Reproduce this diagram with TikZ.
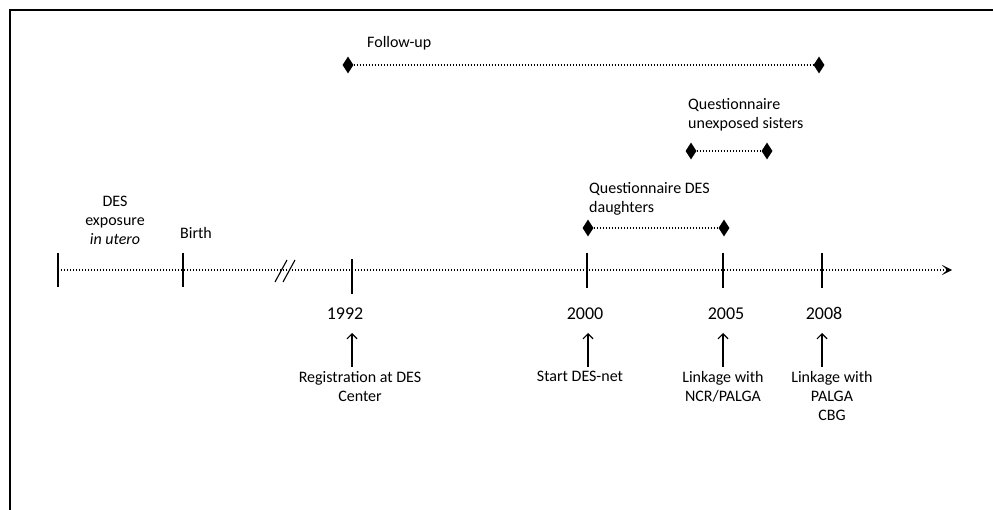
\documentclass[tikz,border=0pt]{standalone}
\usepackage{fontspec}
\setmainfont{Carlito}
\usetikzlibrary{arrows.meta,shapes.geometric}
\begin{document}
\begin{tikzpicture}[x=1pt,y=-1pt,
  lbl/.style={font=\fontsize{16}{19}\selectfont, inner sep=0pt, align=center},
  lbll/.style={font=\fontsize{16}{19}\selectfont, inner sep=0pt, align=left, anchor=west},
  yr/.style={font=\fontsize{18}{21}\selectfont, inner sep=0pt, anchor=base},
  dia/.style={shape=diamond, fill=black, draw=none, inner sep=0pt, minimum width=11pt, minimum height=17pt},
  dots/.style={line width=1.3pt, dash pattern=on 1.3pt off 1.7pt},
  tickmark/.style={line width=1.8pt},
  uparrow/.style={line width=1.2pt, -{Straight Barb[length=5pt,width=10pt,line width=1.2pt]}}
]
\useasboundingbox (0,0) rectangle (993,510);
\fill[white] (0,0) rectangle (993,510);
% frame (cut off at right and bottom)
\draw[line width=2pt] (10,510) -- (10,10) -- (993,10);

% timeline
\coordinate (tstart) at (58,270);
\coordinate (tend) at (952,270);
\draw[dots, -{Stealth[length=10pt,width=10pt,inset=5pt]}] (tstart) -- (tend);

% ticks
\draw[tickmark] (58,253) -- (58,287);
\draw[tickmark] (183,253) -- (183,287);
\draw[tickmark] (352,259) -- (352,294);
\draw[tickmark] (587,253) -- (587,288);
\draw[tickmark] (723,253) -- (723,288);
\draw[tickmark] (822,253) -- (822,288);

% break mark
\draw[line width=1.1pt] (275,282) -- (287,260);
\draw[line width=1.1pt] (283,282) -- (295,260);

% labels above timeline
\node[lbl] (des) at (115,220) {DES\\exposure\\\textit{in utero}};
\node[lbl] (birth) at (196,233) {Birth};

% follow-up
\node[dia] (f1) at (348,65) {};
\node[dia] (f2) at (819,65) {};
\draw[dots] (f1) -- (f2);
\node[lbll] (ftxt) at (367,43) {Follow-up};

% questionnaire unexposed sisters
\node[dia] (s1) at (691,151) {};
\node[dia] (s2) at (767,151) {};
\draw[dots] (s1) -- (s2);
\node[lbll] (stxt) at (688,114.5) {Questionnaire\\unexposed sisters};

% questionnaire DES daughters
\node[dia] (q1) at (588,228) {};
\node[dia] (q2) at (724,228) {};
\draw[dots] (q1) -- (q2);
\node[lbll] (qtxt) at (589,198.5) {Questionnaire DES\\daughters};

% years
\node[yr] (y1992) at (345,320) {1992};
\node[yr] (y2000) at (585,320) {2000};
\node[yr] (y2005) at (726,320) {2005};
\node[yr] (y2008) at (824,320) {2008};

% events below
\node[lbl, anchor=north] (e1992) at (360,371) {Registration at DES\\Center};
\node[lbl, anchor=north] (e2000) at (580,371) {Start DES-net};
\node[lbl, anchor=north] (e2005) at (723,371) {Linkage with\\NCR/PALGA};
\node[lbl, anchor=north] (e2008) at (832,371) {Linkage with\\PALGA\\CBG};

% arrows
\coordinate (a1b) at (352,367); \coordinate (a1t) at (352,333);
\coordinate (a2b) at (588,367); \coordinate (a2t) at (588,333);
\coordinate (a3b) at (723,367); \coordinate (a3t) at (723,333);
\coordinate (a4b) at (822,367); \coordinate (a4t) at (822,333);
\draw[uparrow] (a1b) -- (a1t);
\draw[uparrow] (a2b) -- (a2t);
\draw[uparrow] (a3b) -- (a3t);
\draw[uparrow] (a4b) -- (a4t);
\end{tikzpicture}
\end{document}
